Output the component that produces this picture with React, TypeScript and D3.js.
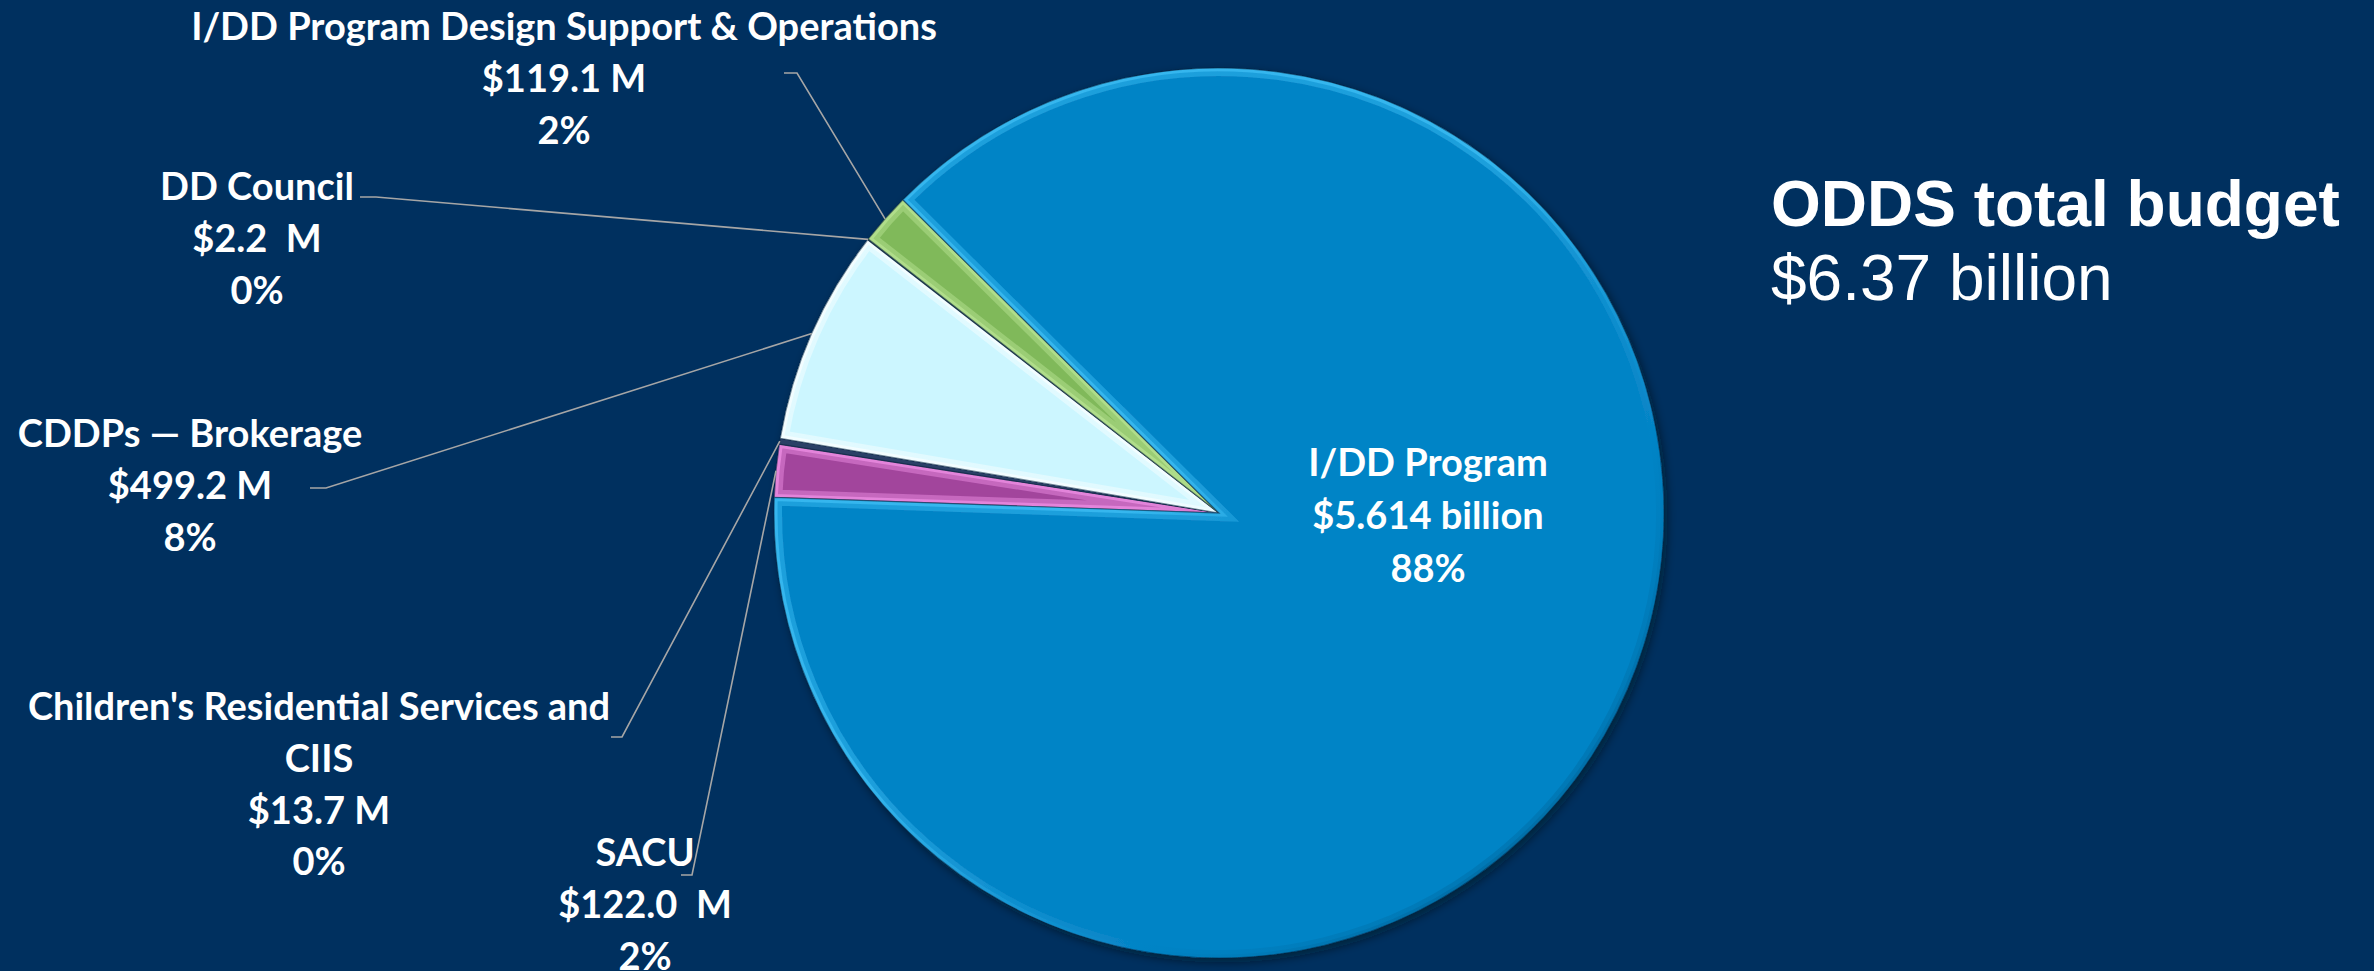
import React from 'react';
import * as d3 from 'd3';

const W = 2374;
const H = 971;

// slices in drawing order, clockwise from just above 9 o'clock
const categories = [
  'SACU',
  "Children's Residential Services and CIIS",
  'CDDPs — Brokerage',
  'DD Council',
  'I/DD Program Design Support & Operations',
  'I/DD Program',
];
const values = [122.0, 13.7, 499.2, 2.2, 119.1, 5614];
const nameLines = [
  ['SACU'],
  ["Children's Residential Services and", 'CIIS'],
  ['CDDPs — Brokerage'],
  ['DD Council'],
  ['I/DD Program Design Support & Operations'],
  ['I/DD Program'],
];
const amountLabels = ['$122.0  M', '$13.7 M', '$499.2 M', '$2.2  M', '$119.1 M', '$5.614 billion'];

const titleText = 'ODDS total budget';
const subtitleText = '$6.37 billion';

// layout: label centre x / first line centre y, and leader stub [x near text, x toward pie, y]
const labelLayout = [
  { x: 645, y: 853, stub: [681, 692, 875] },
  { x: 319, y: 707, stub: [611, 622, 737] },
  { x: 190, y: 434, stub: [310, 326, 488] },
  { x: 257, y: 187, stub: [360, 376, 197] },
  { x: 564, y: 27, stub: [784, 797, 73] },
  { x: 1428, y: 463, stub: null },
];

const fills = ['#A2449C', '#172B4C', '#CCF6FF', '#1E3346', '#80B95A', '#0584C6'];
const highlights = ['#E384DA', '#2A4066', '#F2FDFF', '#2E4A5E', '#B0DD8A', '#34B6EE'];
const shades = ['#6E2468', '#0D1C33', '#9FD2E0', '#14222F', '#557F38', '#035A8C'];

const cx = 1219;
const cy = 513;
const radius = 445;
const startDeg = -88;
const lineH = 51.7;

export default function App() {
  const total = d3.sum(values);
  const pct = d3.format('.0%');

  const pie = d3
    .pie<number>()
    .sort(null)
    .value(d => d)
    .startAngle((startDeg * Math.PI) / 180)
    .endAngle((startDeg * Math.PI) / 180 + 2 * Math.PI);
  const arcs = pie(values);

  const arc = d3.arc<d3.PieArcDatum<number>>().innerRadius(0).outerRadius(radius);
  const rim = d3.arc<d3.PieArcDatum<number>>().innerRadius(radius).outerRadius(radius);

  return (
    <svg
      width={W}
      height={H}
      style={{ position: 'absolute', left: 0, top: 0, background: '#00305F' }}
    >
      <defs>
        <filter id="pieShadow" x="-10%" y="-10%" width="120%" height="120%">
          <feDropShadow dx="3" dy="4" stdDeviation="5" floodColor="#000814" floodOpacity="0.5" />
        </filter>
        {arcs.map((a, i) => (
          <clipPath id={`clip-${i}`} key={i}>
            <path d={arc(a) || ''} />
          </clipPath>
        ))}
        {arcs.map((a, i) => (
          <linearGradient
            id={`bevel-${i}`}
            key={i}
            gradientUnits="userSpaceOnUse"
            x1={-radius}
            y1={-radius}
            x2={radius}
            y2={radius}
          >
            <stop offset="0%" stopColor={highlights[i]} />
            <stop offset="45%" stopColor={highlights[i]} />
            <stop offset="70%" stopColor={fills[i]} />
            <stop offset="100%" stopColor={shades[i]} />
          </linearGradient>
        ))}
      </defs>
      <rect width={W} height={H} fill="#00305F" />

      <g transform={`translate(${cx},${cy})`} filter="url(#pieShadow)">
        {arcs.map((a, i) => (
          <g key={categories[i]}>
            <path d={arc(a) || ''} fill={fills[i]} />
            <path
              d={arc(a) || ''}
              fill="none"
              stroke={`url(#bevel-${i})`}
              strokeWidth={16}
              strokeOpacity={0.55}
              clipPath={`url(#clip-${i})`}
            />
            <path
              d={arc(a) || ''}
              fill="none"
              stroke={`url(#bevel-${i})`}
              strokeWidth={7}
              clipPath={`url(#clip-${i})`}
            />
            <path d={arc(a) || ''} fill="none" stroke="#0B2440" strokeOpacity={0.55} strokeWidth={1.2} />
          </g>
        ))}
      </g>

      {/* leader lines */}
      <g fill="none" stroke="#A6A6A6" strokeWidth={1.6}>
        {arcs.map((a, i) => {
          const s = labelLayout[i].stub;
          if (!s) return null;
          const [px, py] = rim.centroid(a);
          const pts: [number, number][] = [
            [s[0], s[2]],
            [s[1], s[2]],
            [px + cx, py + cy],
          ];
          return <path key={i} d={d3.line()(pts) || ''} />;
        })}
      </g>

      {/* data labels */}
      <g
        fill="#FFFFFF"
        fontFamily="Lato, 'Open Sans', sans-serif"
        fontWeight={700}
        fontSize={38}
        textAnchor="middle"
      >
        {arcs.map((a, i) => {
          const lines = [...nameLines[i], amountLabels[i], pct(values[i] / total)];
          const L = labelLayout[i];
          return (
            <text key={i} style={{ whiteSpace: 'pre' }}>
              {lines.map((t, j) => (
                <tspan key={j} x={L.x} y={L.y + j * (i === 5 ? 53 : lineH)} dy="0.35em">
                  {t}
                </tspan>
              ))}
            </text>
          );
        })}
      </g>

      <text
        x={1771}
        y={226}
        fill="#FFFFFF"
        fontFamily="'Liberation Sans', Arial, sans-serif"
        fontWeight={700}
        fontSize={64}
      >
        {titleText}
      </text>
      <text
        x={1771}
        y={300}
        fill="#FFFFFF"
        fontFamily="'Liberation Sans', Arial, sans-serif"
        fontSize={64}
      >
        {subtitleText}
      </text>
    </svg>
  );
}
